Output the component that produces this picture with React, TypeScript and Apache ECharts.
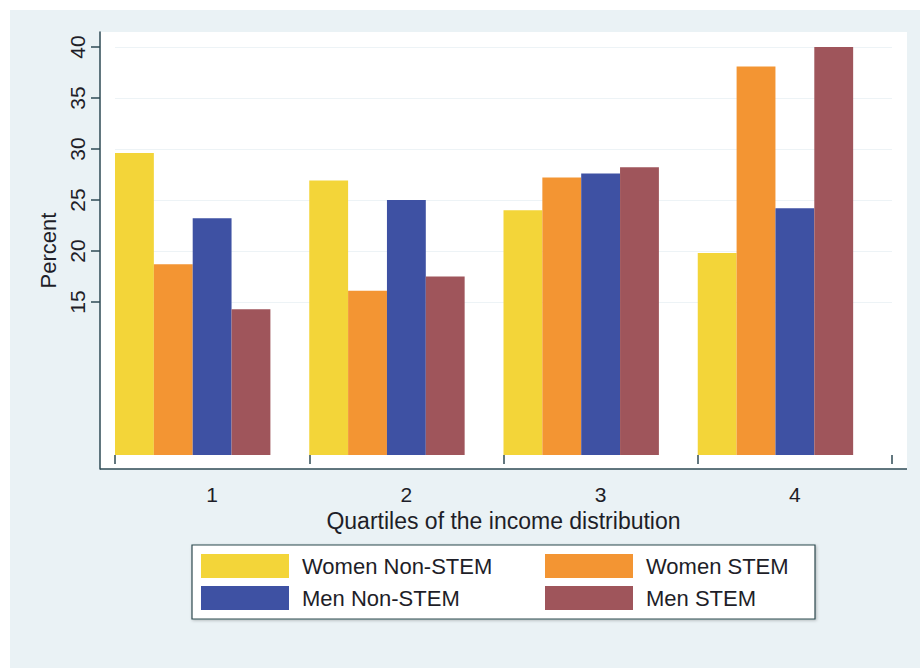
import React, { useEffect, useRef } from "react";
import * as echarts from "echarts";

const categories = ["1", "2", "3", "4"];
const womenNonStem = [29.6, 26.9, 24.0, 19.8];
const womenStem = [18.7, 16.1, 27.2, 38.1];
const menNonStem = [23.2, 25.0, 27.6, 24.2];
const menStem = [14.3, 17.5, 28.2, 40.0];
const yTickValues = [15, 20, 25, 30, 35, 40];

const seriesNames = ["Women Non-STEM", "Women STEM", "Men Non-STEM", "Men STEM"];
const seriesColors = ["#F3D539", "#F39533", "#3E51A3", "#9F555B"];

const AXIS_COLOR = "#2E4A55";
const TEXT_COLOR = "#1E1E28";
const FONT = "'Liberation Sans', Arial, sans-serif";

export default function App() {
  const ref = useRef<HTMLDivElement>(null);

  useEffect(() => {
    if (!ref.current) return;
    const chart = echarts.init(ref.current, undefined, { renderer: "svg" });
    const values = [womenNonStem, womenStem, menNonStem, menStem];

    const barSeries: any[] = values.map((d, i) => ({
      name: seriesNames[i],
      type: "bar",
      data: d,
      barGap: "0%",
      barCategoryGap: "0%",
      itemStyle: { color: seriesColors[i] },
      z: 3,
    }));
    // empty slot so the four bars sit at the left of each category band
    barSeries.push({
      name: "_spacer",
      type: "bar",
      data: categories.map(() => null),
      barGap: "0%",
      barCategoryGap: "0%",
      silent: true,
    });

    const legendCommon = {
      orient: "vertical",
      top: 554,
      padding: 0,
      itemWidth: 88,
      itemHeight: 24,
      itemGap: 8,
      icon: "rect",
      selectedMode: false,
      textStyle: {
        fontFamily: FONT,
        fontSize: 22,
        color: TEXT_COLOR,
        padding: [0, 0, 0, 8],
      },
    };

    chart.setOption({
      animation: false,
      backgroundColor: "#FFFFFF",
      textStyle: { fontFamily: FONT },
      graphic: [
        {
          type: "rect",
          z: -20,
          shape: { x: 10, y: 10, width: 910, height: 658 },
          style: { fill: "#EAF2F5" },
          silent: true,
        },
        {
          type: "rect",
          z: -10,
          shape: { x: 100, y: 32, width: 807, height: 437 },
          style: { fill: "#FFFFFF" },
          silent: true,
        },
        {
          type: "line",
          z: 10,
          shape: { x1: 100, y1: 469, x2: 907, y2: 469 },
          style: { stroke: AXIS_COLOR, lineWidth: 1.5 },
          silent: true,
        },
        {
          type: "rect",
          z: -5,
          shape: { x: 192, y: 545, width: 623, height: 74 },
          style: {
            fill: "#FFFFFF",
            stroke: "#2F4A4F",
            lineWidth: 1.2,
            shadowBlur: 3,
            shadowOffsetX: 1,
            shadowOffsetY: 1,
            shadowColor: "rgba(0,0,0,0.25)",
          },
          silent: true,
        },
      ],
      legend: [
        { ...legendCommon, left: 201, data: [seriesNames[0], seriesNames[2]] },
        { ...legendCommon, left: 545, data: [seriesNames[1], seriesNames[3]] },
      ],
      grid: { left: 115, right: 28, top: 32, bottom: 202 },
      xAxis: {
        type: "category",
        data: categories,
        name: "Quartiles of the income distribution",
        nameLocation: "middle",
        nameGap: 37,
        nameTextStyle: { fontSize: 23, color: TEXT_COLOR, fontFamily: FONT },
        axisLine: { show: false },
        axisTick: {
          show: true,
          length: 9,
          lineStyle: { color: AXIS_COLOR, width: 1.5 },
        },
        axisLabel: {
          fontSize: 21,
          color: TEXT_COLOR,
          margin: 15,
          fontFamily: FONT,
        },
        splitLine: { show: false },
      },
      yAxis: {
        type: "value",
        min: -1.37,
        max: 41.47,
        offset: 15,
        name: "Percent",
        nameLocation: "middle",
        nameGap: 39,
        nameTextStyle: { fontSize: 22, color: TEXT_COLOR, fontFamily: FONT },
        axisLine: { show: true, lineStyle: { color: AXIS_COLOR, width: 1.5 } },
        axisTick: {
          show: true,
          length: 9,
          customValues: yTickValues,
          lineStyle: { color: AXIS_COLOR, width: 1.5 },
        },
        axisLabel: {
          rotate: 90,
          fontSize: 21,
          color: TEXT_COLOR,
          margin: 12,
          fontFamily: FONT,
          customValues: yTickValues,
        },
        splitLine: { show: true, lineStyle: { color: "#EDF3F6", width: 1 } },
      },
      series: barSeries,
    });

    return () => chart.dispose();
  }, []);

  return (
    <div
      ref={ref}
      style={{ position: "fixed", left: 0, top: 0, width: 920, height: 671 }}
    />
  );
}
